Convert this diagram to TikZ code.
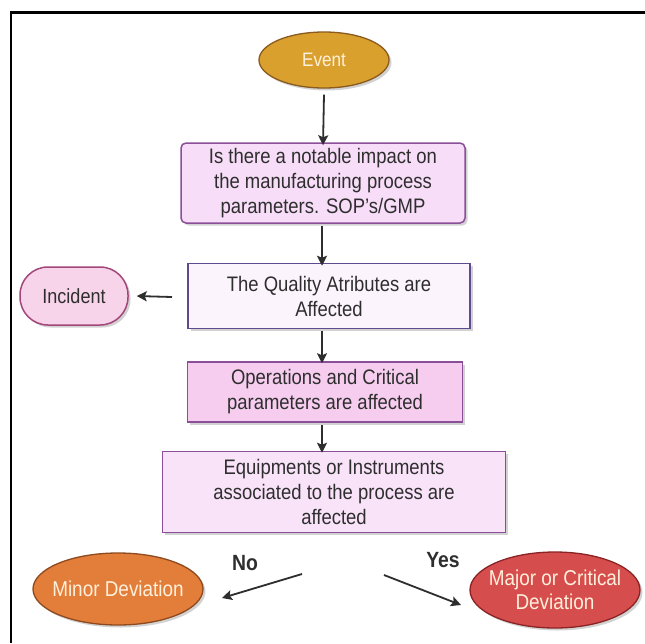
\documentclass[tikz,border=0pt]{standalone}
\usepackage{fontspec}
\setmainfont[FakeStretch=0.88]{Liberation Sans}
\usetikzlibrary{shapes.geometric,shadows,arrows.meta}

\definecolor{eventfill}{HTML}{D9A02E}
\definecolor{eventline}{HTML}{8A5A1E}
\definecolor{boxline}{HTML}{8A4F98}
\definecolor{boxlinedark}{HTML}{5E4A8E}
\definecolor{pinkA}{HTML}{F7DDF7}
\definecolor{pinkB}{HTML}{FCF4FC}
\definecolor{pinkC}{HTML}{F6CDEF}
\definecolor{pinkD}{HTML}{F9E3F9}
\definecolor{incfill}{HTML}{F8D4EA}
\definecolor{incline}{HTML}{A3467A}
\definecolor{minorfill}{HTML}{E27D3A}
\definecolor{minorline}{HTML}{8E4A1E}
\definecolor{majorfill}{HTML}{D64D4D}
\definecolor{majorline}{HTML}{8A2424}
\definecolor{txt}{HTML}{2E2E2E}
\definecolor{lighttxt}{HTML}{FFF0DC}

\tikzset{
  x=1pt, y=-1pt,
  shade/.style={drop shadow={opacity=0.35, shadow xshift=2.5pt, shadow yshift=-2.5pt}},
  flowbox/.style={rectangle, draw=boxline, line width=1.5pt, align=center,
    text=txt, font=\fontsize{21}{25}\selectfont, inner sep=0pt, shade},
  oval/.style={ellipse, line width=1.3pt, align=center, inner xsep=-16pt, inner ysep=0pt,
    text=lighttxt, font=\fontsize{21.5}{24}\selectfont, shade},
  flow/.style={-{Stealth[length=10pt,width=10pt,inset=2pt]}, line width=1.8pt, draw=txt},
  tag/.style={font=\fontsize{22}{22}\selectfont\bfseries, text=txt}
}

\begin{document}
\begin{tikzpicture}
\useasboundingbox (0,0) rectangle (645,643);
\fill[white] (0,0) rectangle (645,643);

% frame
\draw[line width=2.5pt, black] (11,643) -- (11,12.5) -- (645,12.5);

% nodes
\node[oval, fill=eventfill, draw=eventline, minimum width=130pt, minimum height=56pt,
  font=\fontsize{19.5}{22}\selectfont]
  (event) at (324,60) {Event};

\node[flowbox, fill=pinkA, rounded corners=5pt, minimum width=284pt, minimum height=80pt]
  (impact) at (323,183) {Is there a notable impact on\\the manufacturing process\\parameters. SOP's/GMP};

\node[flowbox, fill=pinkB, draw=boxlinedark, minimum width=282pt, minimum height=65pt]
  (quality) at (329,296) {The Quality Atributes are\\Affected};

\node[rectangle, rounded corners=28pt, fill=incfill, draw=incline, line width=1.5pt,
  minimum width=108pt, minimum height=58pt, text=txt, font=\fontsize{20.5}{22}\selectfont, shade]
  (incident) at (74,296) {Incident};

\node[flowbox, fill=pinkC, minimum width=275pt, minimum height=60pt]
  (operations) at (325,392) {Operations and Critical\\parameters are affected};

\node[flowbox, fill=pinkD, minimum width=343pt, minimum height=81pt]
  (equip) at (334,492) {Equipments or Instruments\\associated to the process are\\affected};

\node[oval, fill=minorfill, draw=minorline, minimum width=170pt, minimum height=72pt]
  (minor) at (118,589) {Minor Deviation};

\node[oval, fill=majorfill, draw=majorline, minimum width=170pt, minimum height=76pt]
  (major) at (555,590) {Major or Critical\\Deviation};

% connector ends that stop short of their nodes
\coordinate (qleft) at (172,297);
\coordinate (noStart) at (302,574);
\coordinate (noEnd) at (222,598);
\coordinate (yesStart) at (384,575);
\coordinate (yesEnd) at (461,605);

% connectors
\draw[flow] ([yshift=-6pt]event.south) -- ([yshift=-3pt]impact.north);
\draw[flow] (impact.south -| 322,0) ++(0,2) -- ([yshift=-3pt]quality.north -| 322,0);
\draw[flow] (qleft) -- ([xshift=8pt]incident.east);
\draw[flow] (quality.south -| 322,0) ++(0,2) -- ([yshift=-2pt]operations.north -| 322,0);
\draw[flow] (operations.south -| 322,0) ++(0,2) -- ([yshift=-2pt]equip.north -| 322,0);
\draw[flow] (noStart) -- (noEnd);
\draw[flow] (yesStart) -- (yesEnd);

% branch labels
\node[tag] (no) at (245,563) {No};
\node[tag] (yes) at (443,560) {Yes};
\end{tikzpicture}
\end{document}
